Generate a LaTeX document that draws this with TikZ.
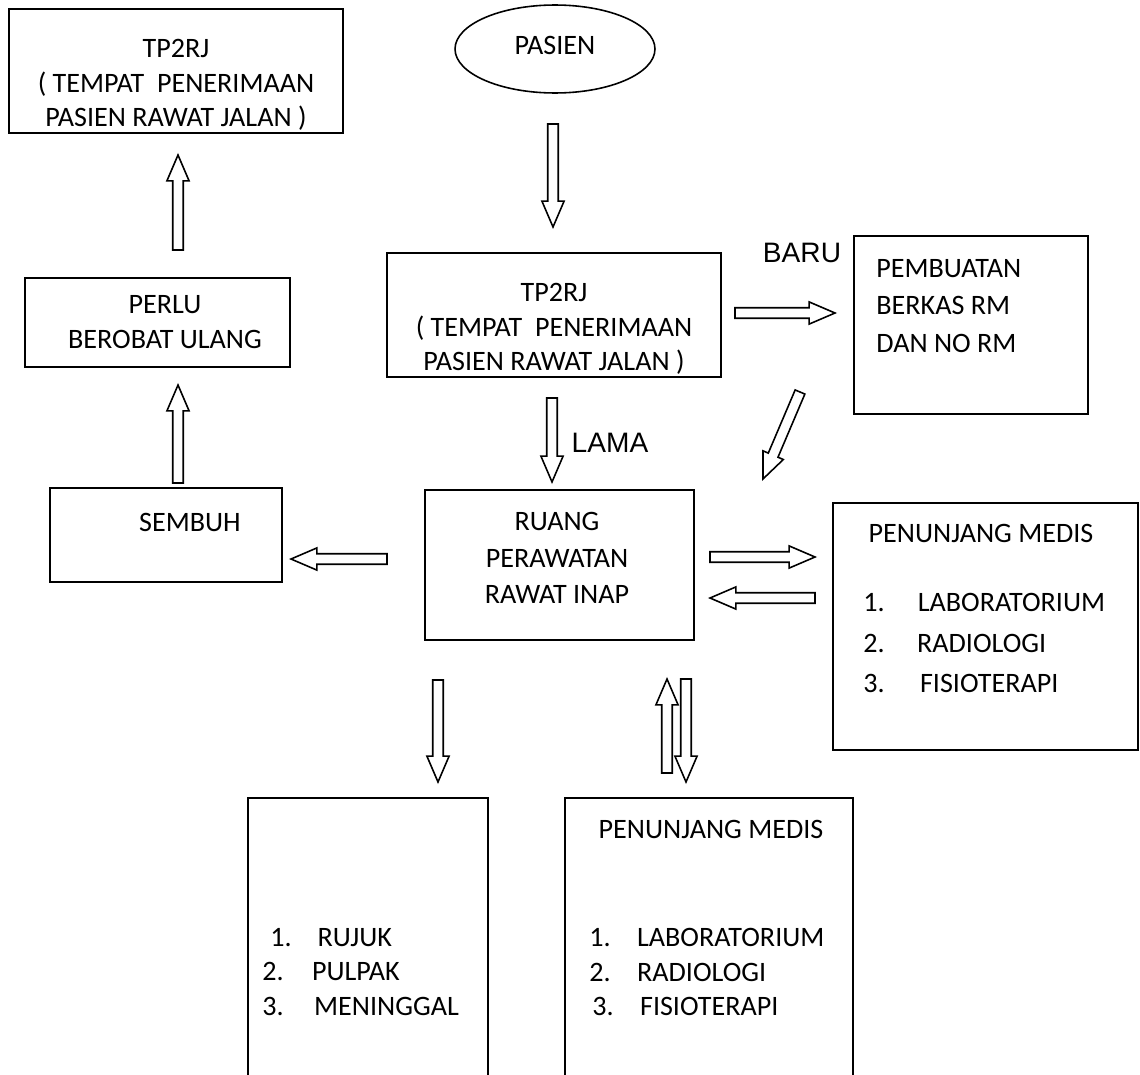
\documentclass[tikz,border=0pt]{standalone}
\usepackage{fontspec}
\setmainfont{Carlito}
\newfontfamily\arialfont{Liberation Sans}
\usetikzlibrary{calc,shapes.geometric}

\tikzset{
  box/.style={draw, line width=0.9pt, rectangle, inner sep=0pt},
  oval/.style={draw, line width=0.9pt, ellipse, inner sep=0pt},
  txt/.style={font=\fontsize{16}{19.5}\selectfont, inner sep=0pt, align=center},
  lst/.style={inner sep=0pt, align=left, anchor=west},
  arialtxt/.style={font=\arialfont\fontsize{16}{19}\selectfont, inner sep=0pt},
  blockarr/.style={draw, line width=0.9pt, fill=white, line join=miter},
}

\newcommand\blockarrow[2]{%
  \path[blockarr] let \p1=(#1), \p2=(#2),
    \n1={atan2(\y2-\y1,\x2-\x1)}, \n2={veclen(\x2-\x1,\y2-\y1)} in
    [shift={(\p1)}, rotate=\n1]
    (0pt,-3pt) -- ({\n2*1pt-14.7pt},-3pt) -- ({\n2*1pt-14.7pt},-6.3pt) -- ({\n2*1pt},0pt)
    -- ({\n2*1pt-14.7pt},6.3pt) -- ({\n2*1pt-14.7pt},3pt) -- (0pt,3pt) -- cycle;
}

\begin{document}
\begin{tikzpicture}[x=0.02cm, y=-0.02cm]
\useasboundingbox (0,0) rectangle (1140,1075);
\fill[white] (0,0) rectangle (1140,1075);
\clip (0,0) rectangle (1140,1075);

% boxes
\node[box, minimum width=6.68cm, minimum height=2.48cm] (tlbox) at (176,71) {};
\node[oval, minimum width=4cm, minimum height=1.76cm] (pasien) at (555,49) {};
\node[box, minimum width=6.68cm, minimum height=2.48cm] (tpbox) at (554,315) {};
\node[box, minimum width=4.68cm, minimum height=3.56cm] (pembox) at (971,325) {};
\node[box, minimum width=5.3cm, minimum height=1.78cm] (perlubox) at (157.5,322.5) {};
\node[box, minimum width=4.64cm, minimum height=1.88cm] (sembox) at (166,535) {};
\node[box, minimum width=5.38cm, minimum height=3.0cm] (ruangbox) at (559.5,565) {};
\node[box, minimum width=6.1cm, minimum height=4.94cm] (penRbox) at (985.5,626.5) {};
\node[box, minimum width=4.8cm, minimum height=6.04cm] (botLbox) at (368,949) {};
\node[box, minimum width=5.76cm, minimum height=6.04cm] (botRbox) at (709,949) {};

% texts
\node[txt] (tltxt) at (176,85) {TP2RJ\\( TEMPAT\ \ PENERIMAAN\\PASIEN RAWAT JALAN )};
\node[txt] (pasientxt) at (555,45) {PASIEN};
\node[txt] (tptxt) at (554,329) {TP2RJ\\( TEMPAT\ \ PENERIMAAN\\PASIEN RAWAT JALAN )};
\node[arialtxt] (baru) at (802,253) {BARU};
\node[txt, lst, font=\fontsize{16}{21.5}\selectfont] (pemtxt) at (876,306) {PEMBUATAN\\BERKAS RM\\DAN NO RM};
\node[txt, font=\fontsize{16}{19.8}\selectfont] (perlutxt) at (165,322) {PERLU\\BEROBAT ULANG};
\node[arialtxt] (lama) at (610,443) {LAMA};
\node[txt] (semtxt) at (190,522) {SEMBUH};
\node[txt, font=\fontsize{16}{20.7}\selectfont] (ruangtxt) at (557,558) {RUANG\\PERAWATAN\\RAWAT INAP};
\node[txt] (penRtitle) at (981,533) {PENUNJANG MEDIS};
\node[txt, lst, font=\fontsize{16}{23}\selectfont] (penRlist) at (863,643)
  {\makebox[31pt][l]{1.}LABORATORIUM\\\makebox[30.6pt][l]{2.}RADIOLOGI\\\makebox[32.3pt][l]{3.}FISIOTERAPI};
\node[txt, lst, font=\fontsize{16}{19.8}\selectfont] (botLlist) at (262,972)
  {\hspace{4.5pt}\makebox[27pt][l]{1.}RUJUK\\\makebox[28.3pt][l]{2.}PULPAK\\\makebox[29.5pt][l]{3.}MENINGGAL};
\node[txt] (botRtitle) at (711,829) {PENUNJANG MEDIS};
\node[txt, lst, font=\fontsize{16}{19.8}\selectfont] (botRlist) at (589,972)
  {\makebox[27.2pt][l]{1.}LABORATORIUM\\\makebox[27.2pt][l]{2.}RADIOLOGI\\\hspace{1.7pt}\makebox[27.2pt][l]{3.}FISIOTERAPI};

% arrow end points
\coordinate (a1s) at (553,124); \coordinate (a1e) at (553,227);
\coordinate (a2s) at (735,313); \coordinate (a2e) at (835,313);
\coordinate (a3s) at (800,392); \coordinate (a3e) at (763,479);
\coordinate (a4s) at (552,398); \coordinate (a4e) at (552,482);
\coordinate (a5s) at (387,559); \coordinate (a5e) at (291,559);
\coordinate (a6s) at (178,483); \coordinate (a6e) at (178,385);
\coordinate (a7s) at (178,250); \coordinate (a7e) at (178,155);
\coordinate (a8s) at (710,557); \coordinate (a8e) at (815,557);
\coordinate (a9s) at (815,598); \coordinate (a9e) at (710,598);
\coordinate (a10s) at (438,680); \coordinate (a10e) at (438,782);
\coordinate (a11s) at (667,773); \coordinate (a11e) at (667,679);
\coordinate (a12s) at (686,679); \coordinate (a12e) at (686,782);

\blockarrow{a1s}{a1e}
\blockarrow{a2s}{a2e}
\blockarrow{a3s}{a3e}
\blockarrow{a4s}{a4e}
\blockarrow{a5s}{a5e}
\blockarrow{a6s}{a6e}
\blockarrow{a7s}{a7e}
\blockarrow{a8s}{a8e}
\blockarrow{a9s}{a9e}
\blockarrow{a10s}{a10e}
\blockarrow{a11s}{a11e}
\blockarrow{a12s}{a12e}
\end{tikzpicture}
\end{document}
